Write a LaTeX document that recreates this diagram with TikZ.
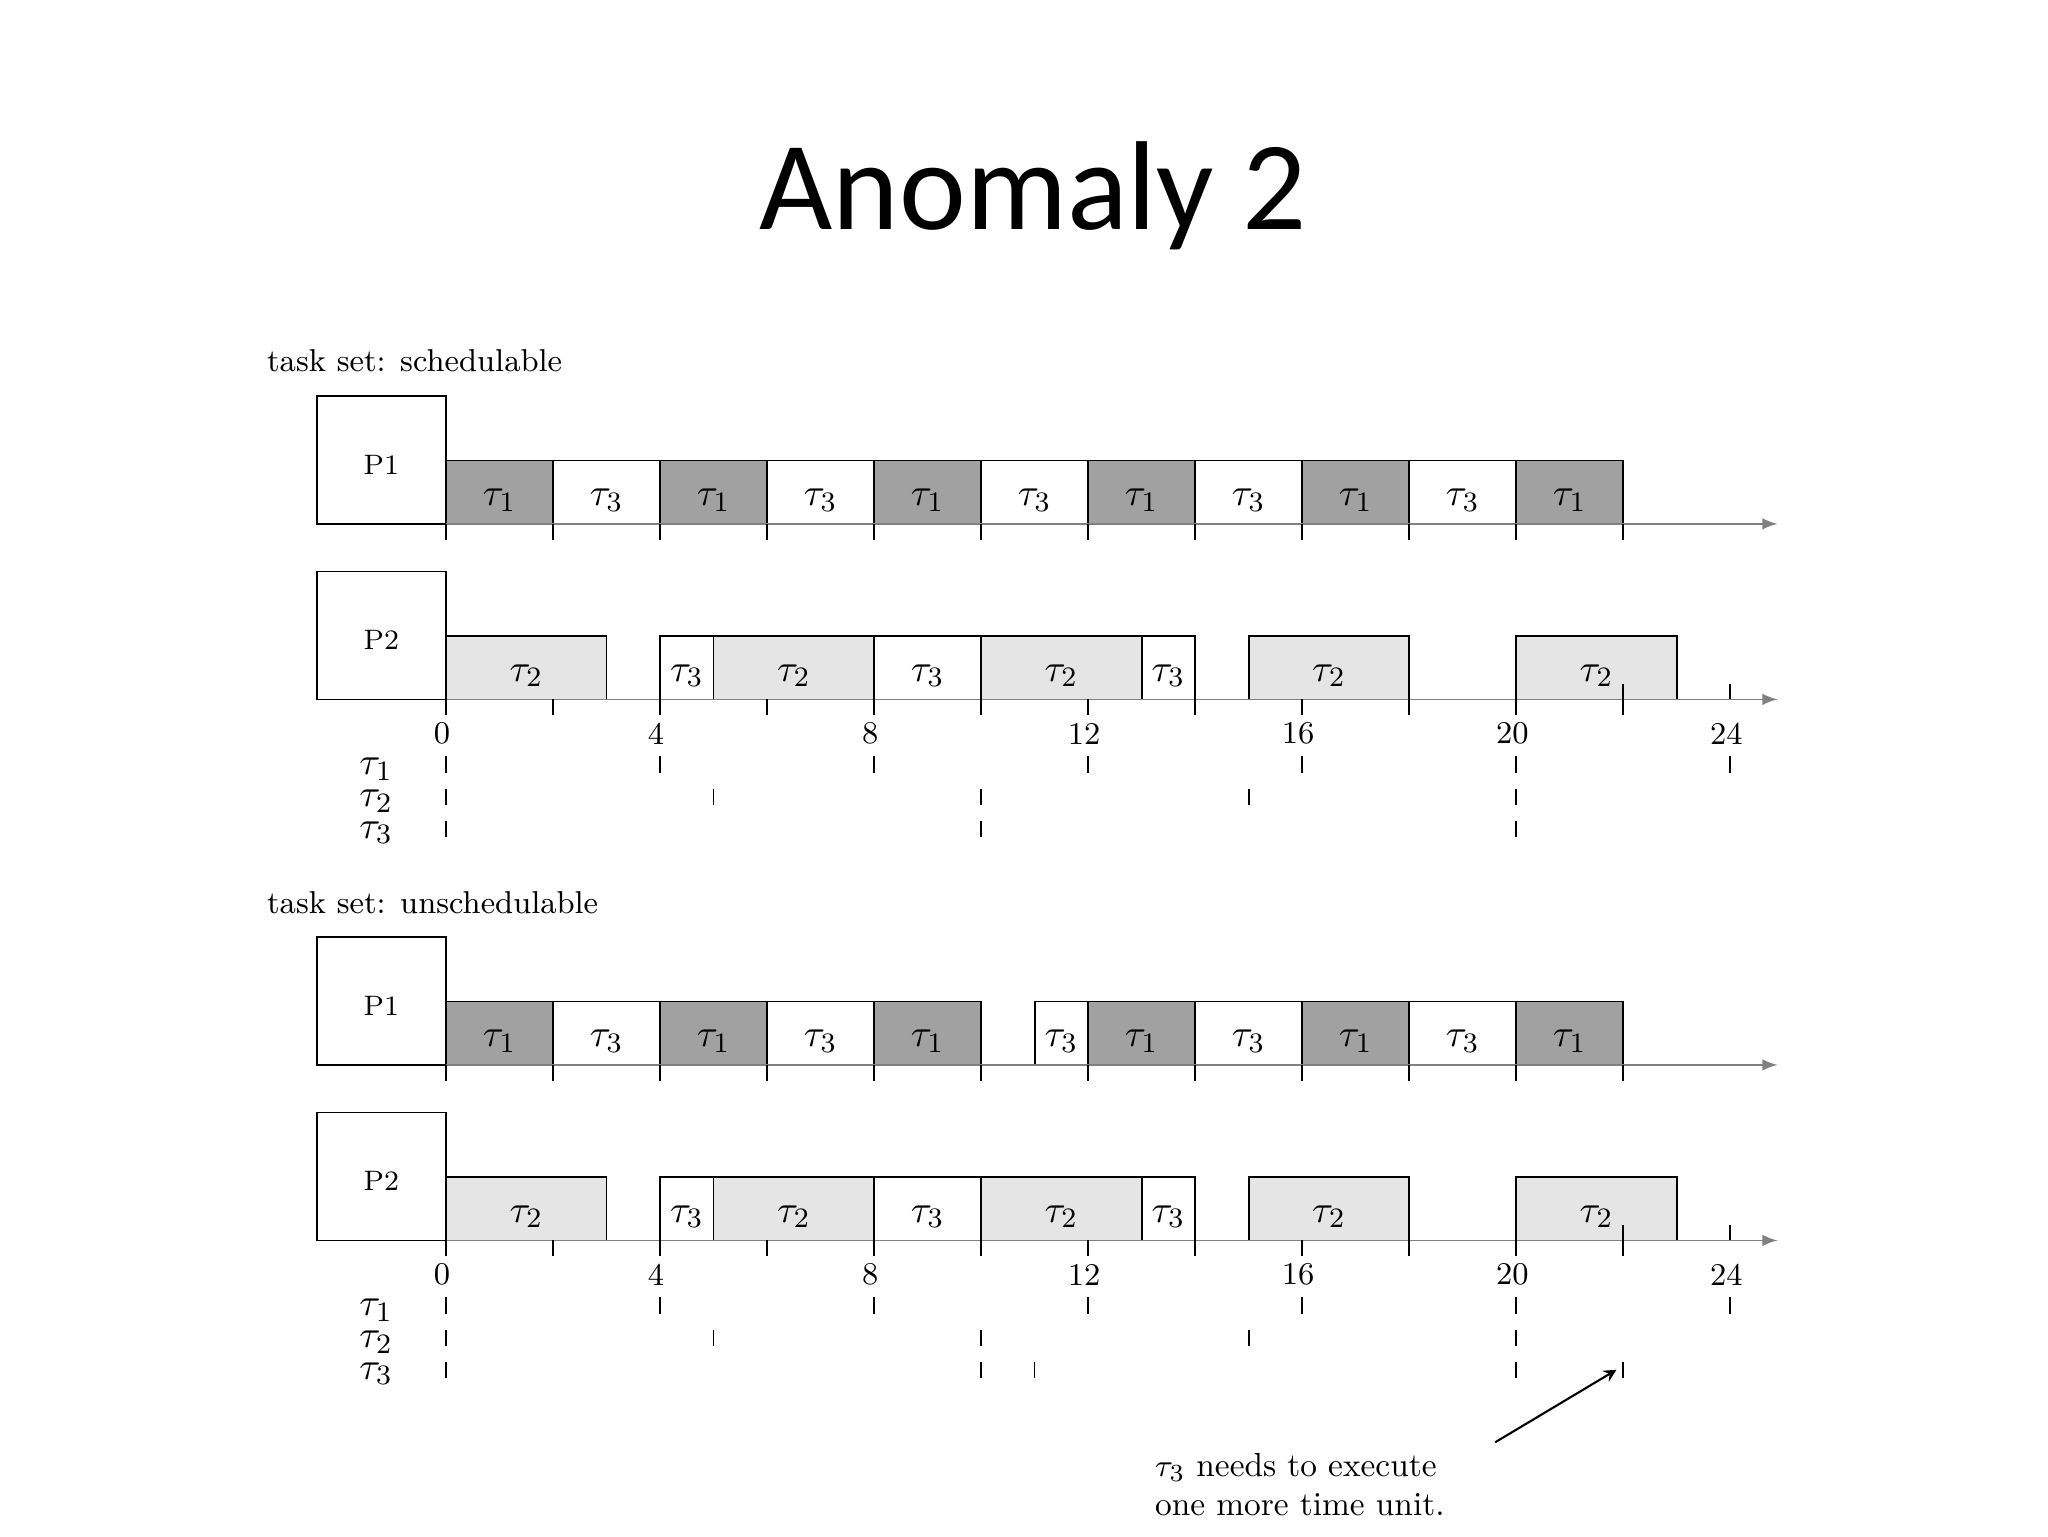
\documentclass[tikz,border=0pt]{standalone}
\usepackage{fontspec}
\newfontfamily\titlefont{Carlito}
\definecolor{dk}{gray}{0.63}
\definecolor{lt}{gray}{0.9}
\newcommand\tb[5]{%
  \filldraw[draw=black,fill=#4,line width=0.5pt] ({338+40.55*#1},#3) rectangle ({338+40.55*#2},{#3-48});
  \node[font=\fontsize{11}{13}\selectfont] at ({338+40.55*(#1+#2)/2},{#3-18}) {$\tau_{#5}$};}
\newcommand\axis[2]{% baseline, label
  \draw[line width=0.5pt] (240,#1) rectangle (338,{#1-97});
  \node[font=\fontsize{8}{10}\selectfont] at (289,{#1-45}) {#2};
  \draw[gray,-latex,line width=0.5pt] (338,#1) -- (1347,#1);
  \foreach \k in {0,...,11}{\draw[line width=0.5pt] ({338+81.1*\k},#1) -- ({338+81.1*\k},{#1+12});}}
\newcommand\rel[1]{% baseline of P2
  \foreach \v in {0,4,8,12,16,20,24}{
    \node[font=\fontsize{9}{11}\selectfont] at ({335+40.55*\v},{#1+26}) {\v};
    \draw[line width=0.5pt] ({338+40.55*\v},{#1+43}) -- ({338+40.55*\v},{#1+56});}
  \foreach \v in {0,5,10,15,20}{\draw[line width=0.5pt] ({338+40.55*\v},{#1+68}) -- ({338+40.55*\v},{#1+80});}
  \foreach \v in {0,10,20}{\draw[line width=0.5pt] ({338+40.55*\v},{#1+92}) -- ({338+40.55*\v},{#1+104});}
  \node[font=\fontsize{11}{13}\selectfont] at (285,{#1+53}) {$\tau_1$};
  \node[font=\fontsize{11}{13}\selectfont] at (285,{#1+77}) {$\tau_2$};
  \node[font=\fontsize{11}{13}\selectfont] at (285,{#1+101}) {$\tau_3$};
  \draw[line width=0.5pt] (1311,#1) -- (1311,{#1-12});
  \draw[line width=0.5pt] (1230,#1) -- (1230,{#1-12});}
\newcommand\ptwo[1]{%
  \tb{0}{3}{#1}{lt}{2}\tb{4}{5}{#1}{white}{3}\tb{5}{8}{#1}{lt}{2}\tb{8}{10}{#1}{white}{3}
  \tb{10}{13}{#1}{lt}{2}\tb{13}{14}{#1}{white}{3}\tb{15}{18}{#1}{lt}{2}\tb{20}{23}{#1}{lt}{2}}
\begin{document}
\begin{tikzpicture}[x=0.0132cm,y=-0.0132cm]
\useasboundingbox (0,0) rectangle (1552,1164);
\node[font=\titlefont\fontsize{36}{40}\selectfont] (title) at (783,148) {Anomaly 2};
\node[anchor=west,font=\fontsize{9}{11}\selectfont] (s1) at (193,273) {task set: schedulable};
\node[anchor=west,font=\fontsize{9}{11}\selectfont] (s2) at (193,684) {task set: unschedulable};
% top
\foreach \pa/\pb/\pc/\pd in {0/2/dk/1,2/4/white/3,4/6/dk/1,6/8/white/3,8/10/dk/1,10/12/white/3,12/14/dk/1,14/16/white/3,16/18/dk/1,18/20/white/3,20/22/dk/1}{\tb{\pa}{\pb}{397}{\pc}{\pd}}
\axis{397}{P1}
\ptwo{530}
\axis{530}{P2}
\rel{530}
% bottom
\foreach \pa/\pb/\pc/\pd in {0/2/dk/1,2/4/white/3,4/6/dk/1,6/8/white/3,8/10/dk/1,11/12/white/3,12/14/dk/1,14/16/white/3,16/18/dk/1,18/20/white/3,20/22/dk/1}{\tb{\pa}{\pb}{807}{\pc}{\pd}}
\axis{807}{P1}
\ptwo{940}
\axis{940}{P2}
\rel{940}
\draw[line width=0.5pt] (784,1032) -- (784,1044);
\draw[line width=0.5pt] (1230,1032) -- (1230,1044);
\coordinate (a0) at (1133,1093);
\coordinate (a1) at (1225,1038);
\draw[-stealth,line width=0.6pt] (a0) -- (a1);
\node[anchor=north west,align=left,font=\fontsize{9.5}{11}\selectfont] (note) at (866,1092) {$\tau_3$ needs to execute\\one more time unit.};
\end{tikzpicture}
\end{document}
